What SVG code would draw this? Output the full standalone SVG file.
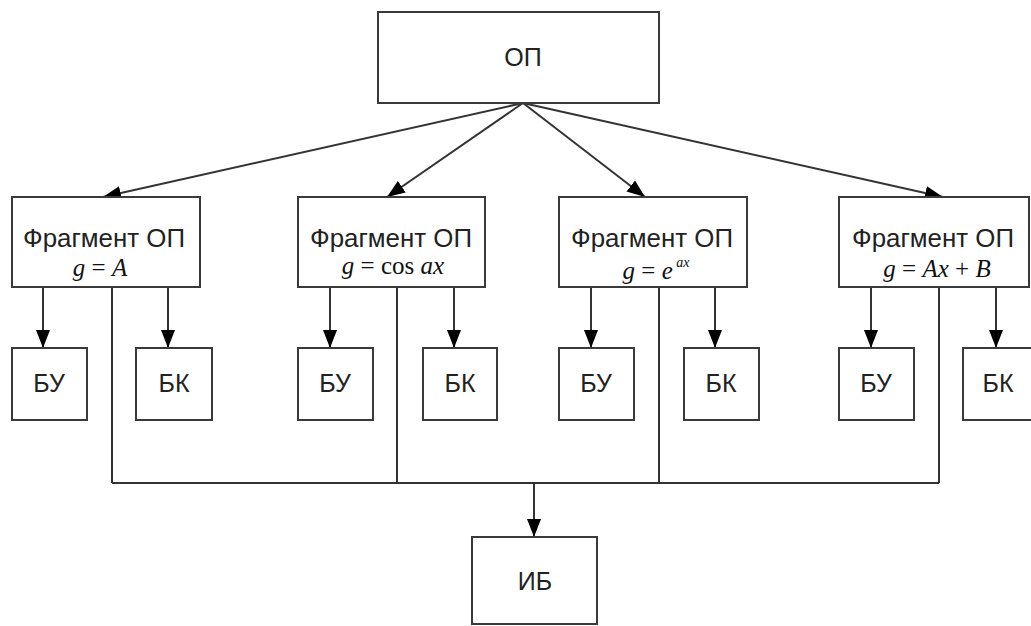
<svg xmlns="http://www.w3.org/2000/svg" width="1031" height="626" viewBox="0 0 1031 626">
  <style>
    .box { fill: #ffffff; stroke: #3a3a3a; stroke-width: 2; }
    .lbl { font-family: "Liberation Sans", Arial, sans-serif; font-size: 25px; fill: #222; text-anchor: middle; }
    .frm { font-family: "Liberation Serif", "Times New Roman", serif; font-size: 25px; fill: #111; text-anchor: middle; }
    .it { font-style: italic; }
    .wire { fill: none; stroke: #333; stroke-width: 2; }
    .arrow { fill: none; stroke: #333; stroke-width: 2; marker-end: url(#head); }
  </style>
  <defs>
    <marker id="head" markerUnits="userSpaceOnUse" markerWidth="19" markerHeight="15" refX="18" refY="7" orient="auto">
      <path d="M0,0 L18,7 L0,14 z" fill="#000"/>
    </marker>
  </defs>
  <rect width="1031" height="626" fill="#ffffff"/>

  <!-- connectors -->
  <g id="connectors">
    <line class="arrow" x1="523" y1="103" x2="103" y2="197"/>
    <line class="arrow" x1="523" y1="103" x2="387" y2="197"/>
    <line class="arrow" x1="523" y1="103" x2="645" y2="197"/>
    <line class="arrow" x1="523" y1="103" x2="943" y2="197"/>

    <line class="arrow" x1="43" y1="287" x2="43" y2="348"/>
    <line class="arrow" x1="168" y1="287" x2="168" y2="348"/>
    <line class="arrow" x1="330" y1="287" x2="330" y2="348"/>
    <line class="arrow" x1="454" y1="287" x2="454" y2="348"/>
    <line class="arrow" x1="591" y1="287" x2="591" y2="348"/>
    <line class="arrow" x1="715" y1="287" x2="715" y2="348"/>
    <line class="arrow" x1="871" y1="287" x2="871" y2="348"/>
    <line class="arrow" x1="996" y1="287" x2="996" y2="348"/>

    <path class="wire" d="M112,287 V483 M397,287 V483 M659,287 V483 M939,287 V483 M112,483 H939"/>
    <line class="arrow" x1="534" y1="483" x2="534" y2="537"/>
  </g>

  <!-- top block -->
  <g id="op">
    <rect class="box" x="378" y="12" width="281" height="91"/>
    <text class="lbl" x="523" y="66">ОП</text>
  </g>

  <!-- fragments -->
  <g id="frag1">
    <rect class="box" x="12" y="197" width="188" height="90"/>
    <text class="lbl" x="104" y="247" textLength="162" lengthAdjust="spacingAndGlyphs">Фрагмент ОП</text>
    <text class="frm" x="100" y="276"><tspan class="it">g</tspan> = <tspan class="it">A</tspan></text>
  </g>
  <g id="frag2">
    <rect class="box" x="298" y="197" width="187" height="90"/>
    <text class="lbl" x="391" y="247" textLength="162" lengthAdjust="spacingAndGlyphs">Фрагмент ОП</text>
    <text class="frm" x="393" y="274"><tspan class="it">g</tspan> = cos <tspan class="it">ax</tspan></text>
  </g>
  <g id="frag3">
    <rect class="box" x="559" y="197" width="188" height="90"/>
    <text class="lbl" x="652" y="247" textLength="162" lengthAdjust="spacingAndGlyphs">Фрагмент ОП</text>
    <text class="frm" x="656" y="279"><tspan class="it">g</tspan> = <tspan class="it">e</tspan><tspan class="it" font-size="14" dy="-12"> ax</tspan></text>
  </g>
  <g id="frag4">
    <rect class="box" x="839" y="197" width="190" height="90"/>
    <text class="lbl" x="933" y="247" textLength="162" lengthAdjust="spacingAndGlyphs">Фрагмент ОП</text>
    <text class="frm" x="937" y="277"><tspan class="it">g</tspan> = <tspan class="it">Ax</tspan> + <tspan class="it">B</tspan></text>
  </g>

  <!-- control / check blocks -->
  <g id="bu1"><rect class="box" x="12" y="348" width="75" height="72"/><text class="lbl" x="49" y="392">БУ</text></g>
  <g id="bk1"><rect class="box" x="136" y="348" width="76" height="72"/><text class="lbl" x="174" y="392">БК</text></g>
  <g id="bu2"><rect class="box" x="298" y="348" width="75" height="72"/><text class="lbl" x="335" y="392">БУ</text></g>
  <g id="bk2"><rect class="box" x="423" y="348" width="74" height="72"/><text class="lbl" x="460" y="392">БК</text></g>
  <g id="bu3"><rect class="box" x="559" y="348" width="75" height="72"/><text class="lbl" x="596" y="392">БУ</text></g>
  <g id="bk3"><rect class="box" x="684" y="348" width="75" height="72"/><text class="lbl" x="721" y="392">БК</text></g>
  <g id="bu4"><rect class="box" x="839" y="348" width="75" height="72"/><text class="lbl" x="876" y="392">БУ</text></g>
  <g id="bk4"><rect class="box" x="963" y="348" width="75" height="72"/><text class="lbl" x="998" y="392">БК</text></g>

  <!-- output block -->
  <g id="ib">
    <rect class="box" x="472" y="537" width="125" height="87"/>
    <text class="lbl" x="535" y="590">ИБ</text>
  </g>
</svg>
